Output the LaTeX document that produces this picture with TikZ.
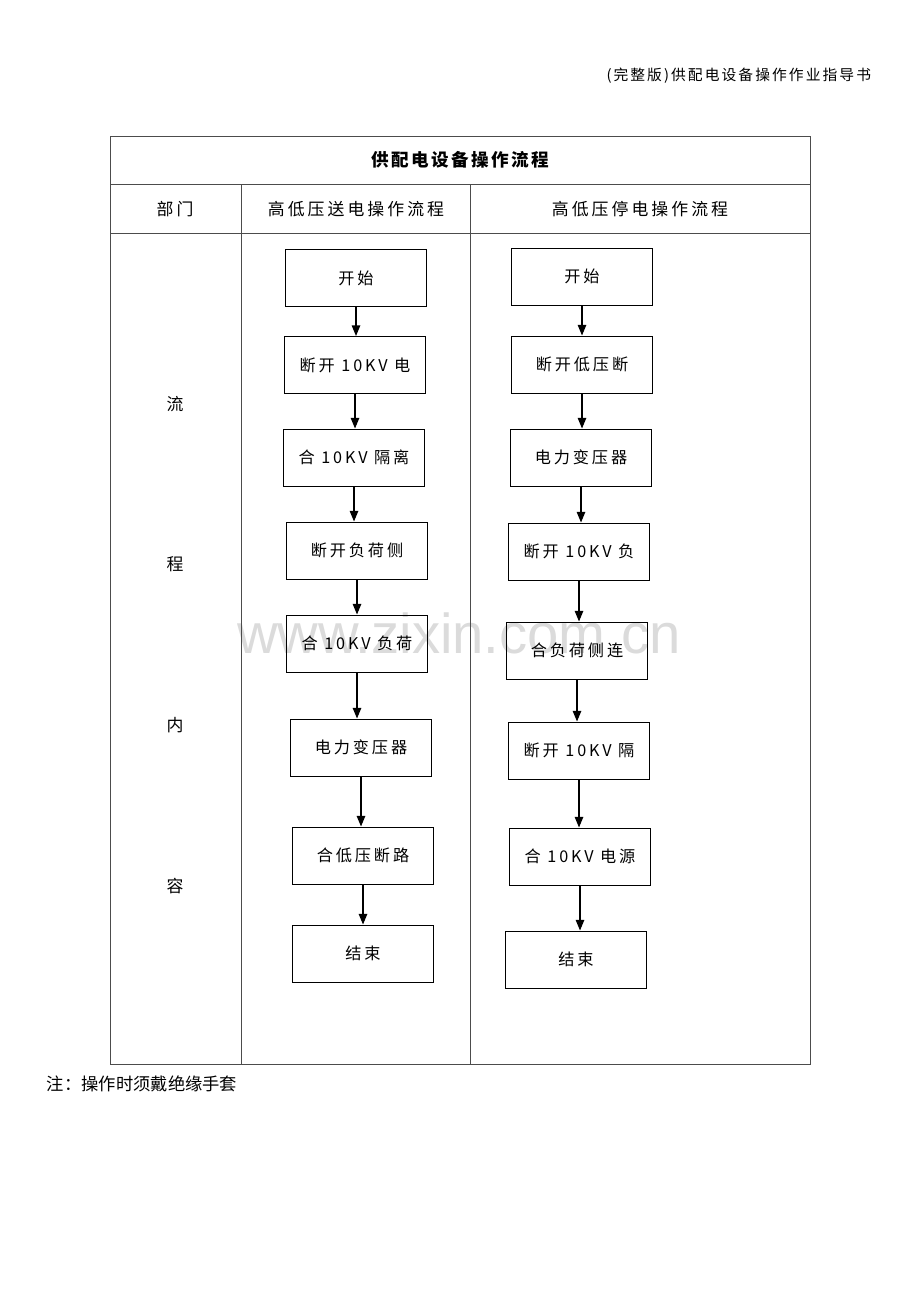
\documentclass[tikz,border=0pt]{standalone}
\usepackage{fontspec}
\setmainfont{Liberation Sans}
\newfontfamily\cjk{Noto Sans CJK SC}
\newfontfamily\cjkspaced[LetterSpace=18]{Noto Sans CJK SC}
\newfontfamily\cjkhead[LetterSpace=14]{Noto Sans CJK SC}
\usetikzlibrary{arrows.meta}

\begin{document}
\begin{tikzpicture}[
    x=0.025cm, y=-0.025cm,
    % Define styles
    stepbox/.style={rectangle, draw=black, line width=0.7pt, minimum width=3.5cm, minimum height=1.425cm, inner sep=0pt, font=\cjkspaced\fontsize{11.5}{13}\selectfont},
    arrow/.style={-{Triangle[length=7.5pt, width=6pt]}, line width=0.8pt},
    grid/.style={draw=black!70, line width=0.6pt},
    headtext/.style={font=\cjkspaced\fontsize{12}{14}\selectfont},
    ]

    % Page frame
    \useasboundingbox (0,0) rectangle (920,1302);

    % Page header and watermark
    \node[anchor=east, font=\cjkhead\fontsize{10.5}{12}\selectfont] (pagehead) at (876,76) {(完整版)供配电设备操作作业指导书};
    \node[text=black!14, font=\fontsize{40}{46}\selectfont] (watermark) at (459,633) {www.zixin.com.cn};

    % Table lines
    \draw[grid] (110,136) rectangle (810,1064);
    \draw[grid] (110,184) -- (810,184);
    \draw[grid] (110,233) -- (810,233);
    \draw[grid] (241,184) -- (241,1064);
    \draw[grid] (470,184) -- (470,1064);

    % Table texts
    \node[font=\cjkhead\bfseries\fontsize{12.5}{14}\selectfont] (title) at (460,160) {供配电设备操作流程};
    \node[headtext] (dept) at (175,209) {部门};
    \node[headtext] (onhead) at (356,209) {高低压送电操作流程};
    \node[headtext] (offhead) at (640,209) {高低压停电操作流程};
    \node[headtext] (c1) at (175,404) {流};
    \node[headtext] (c2) at (175,564) {程};
    \node[headtext] (c3) at (175,725) {内};
    \node[headtext] (c4) at (175,886) {容};

    % Power-on steps
    \node[stepbox] (on1) at (356,278) {开始};
    \node[stepbox] (on2) at (355,365) {断开 10KV 电};
    \node[stepbox] (on3) at (354,457.5) {合 10KV 隔离};
    \node[stepbox] (on4) at (357,550.5) {断开负荷侧};
    \node[stepbox] (on5) at (357,643.5) {合 10KV 负荷};
    \node[stepbox] (on6) at (361,747.5) {电力变压器};
    \node[stepbox] (on7) at (363,855.5) {合低压断路};
    \node[stepbox] (on8) at (363,953.5) {结束};

    % Power-off steps
    \node[stepbox] (off1) at (582,276.5) {开始};
    \node[stepbox] (off2) at (582,364.5) {断开低压断};
    \node[stepbox] (off3) at (581,457.5) {电力变压器};
    \node[stepbox] (off4) at (579,551.5) {断开 10KV 负};
    \node[stepbox] (off5) at (577,650.5) {合负荷侧连};
    \node[stepbox] (off6) at (579,750.5) {断开 10KV 隔};
    \node[stepbox] (off7) at (580,856.5) {合 10KV 电源};
    \node[stepbox] (off8) at (576,959.5) {结束};

    % Arrows, power-on
    \draw[arrow] (on1.south) -- (on1.south |- on2.north);
    \draw[arrow] (on2.south) -- (on2.south |- on3.north);
    \draw[arrow] (on3.south) -- (on3.south |- on4.north);
    \draw[arrow] (on4.south) -- (on4.south |- on5.north);
    \draw[arrow] (on5.south) -- (on5.south |- on6.north);
    \draw[arrow] (on6.south) -- (on6.south |- on7.north);
    \draw[arrow] (on7.south) -- (on7.south |- on8.north);

    % Arrows, power-off
    \draw[arrow] (off1.south) -- (off1.south |- off2.north);
    \draw[arrow] (off2.south) -- (off2.south |- off3.north);
    \draw[arrow] (off3.south) -- (off3.south |- off4.north);
    \draw[arrow] (off4.south) -- (off4.south |- off5.north);
    \draw[arrow] (off5.south) -- (off5.south |- off6.north);
    \draw[arrow] (off6.south) -- (off6.south |- off7.north);
    \draw[arrow] (off7.south) -- (off7.south |- off8.north);

    % Note below the table
    \node[anchor=west, font=\cjk\fontsize{12.3}{14}\selectfont] (note) at (42,1084) {注：操作时须戴绝缘手套};

\end{tikzpicture}
\end{document}
